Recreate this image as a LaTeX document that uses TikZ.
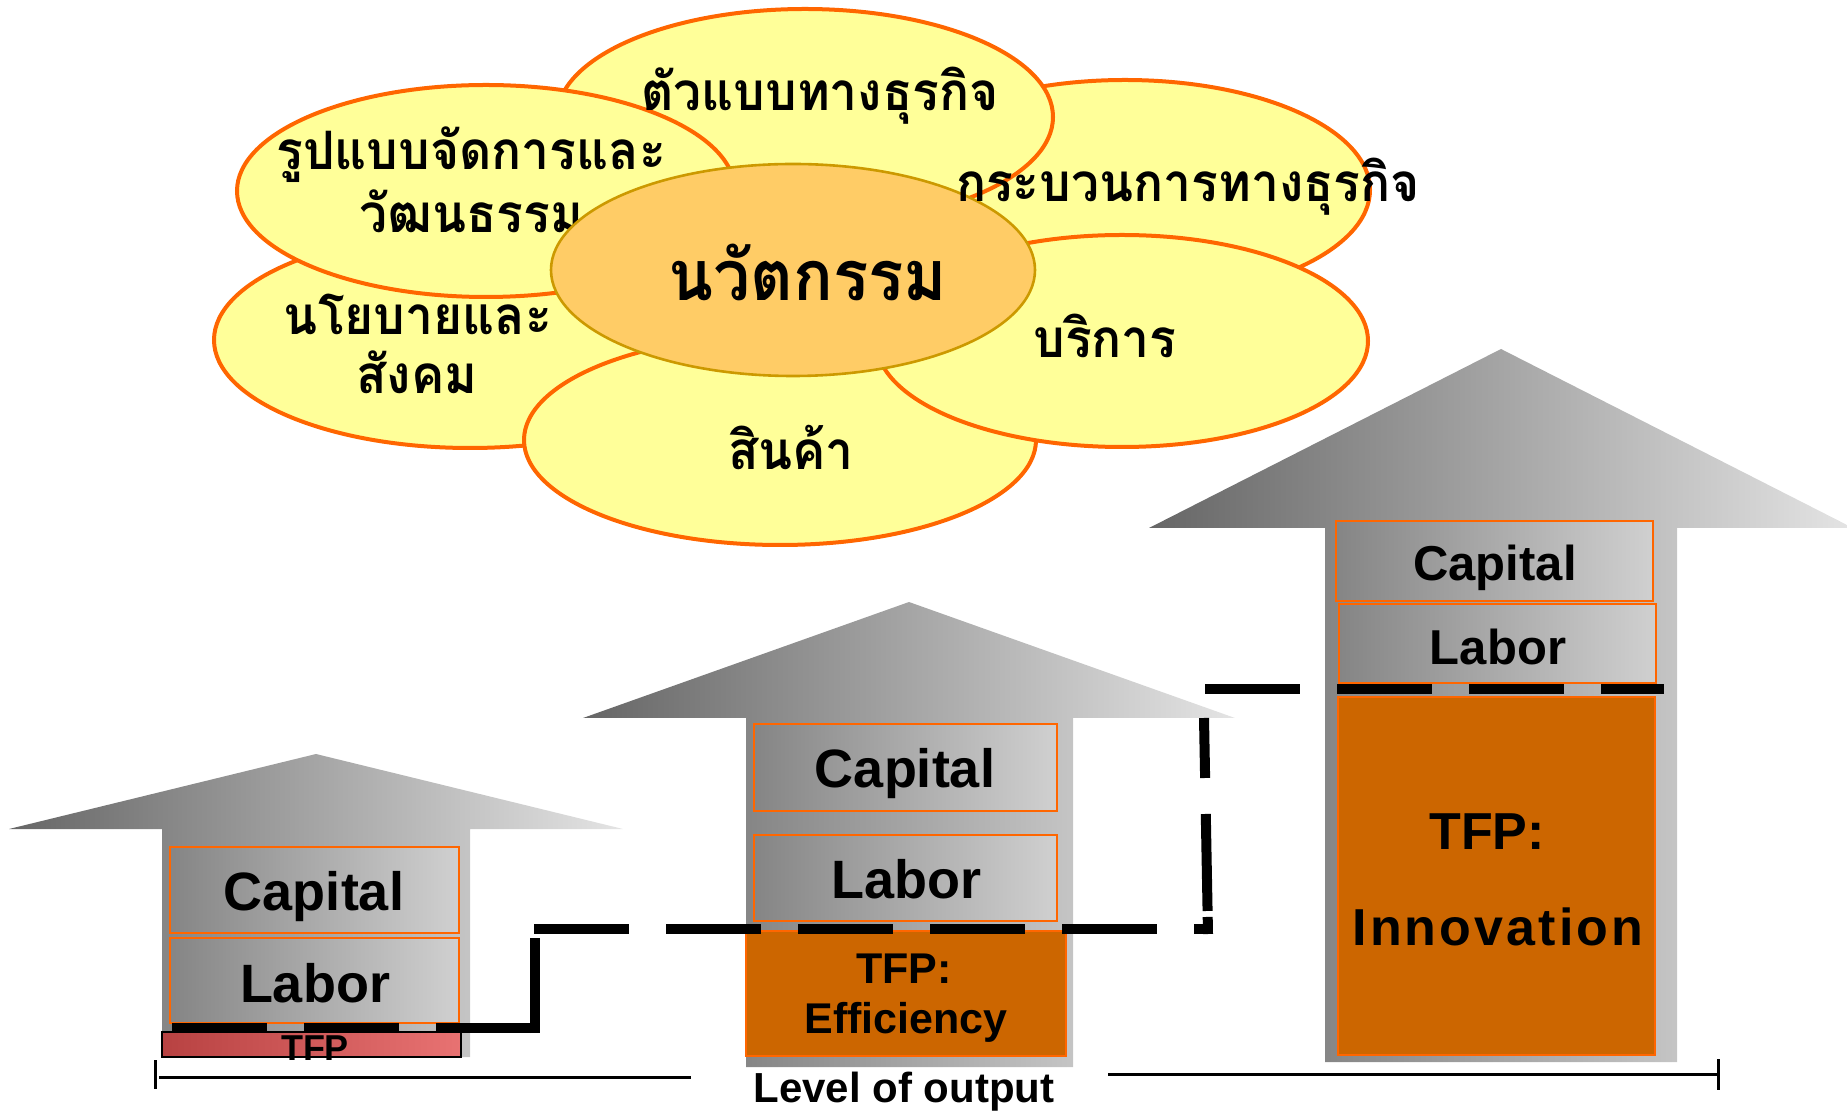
\documentclass[tikz,border=0pt]{standalone}
\usepackage{fontspec}
\setmainfont{Liberation Sans}
\newfontfamily\thaifont[Script=Thai,FakeStretch=0.94]{Loma}
\usetikzlibrary{shapes.geometric}
\definecolor{petalfill}{HTML}{FFFF99}
\definecolor{petalline}{HTML}{FF6600}
\definecolor{corefill}{HTML}{FFCC66}
\definecolor{coreline}{HTML}{CC9900}
\definecolor{tfpfill}{HTML}{CC6600}
\definecolor{arrowdark}{HTML}{666666}
\definecolor{arrowlight}{HTML}{E4E4E4}
\definecolor{boxdark}{HTML}{858585}
\definecolor{boxlight}{HTML}{D0D0D0}
\definecolor{redleft}{HTML}{B84242}
\definecolor{redright}{HTML}{E87272}
\tikzset{
  petal/.style={ellipse, draw=petalline, line width=2pt, fill=petalfill, inner sep=0pt},
  core/.style={ellipse, draw=coreline, line width=1.3pt, fill=corefill, inner sep=0pt},
  thsmall/.style={anchor=base, inner sep=0pt, font=\thaifont\bfseries\fontsize{26.5}{30}\selectfont},
  thbig/.style={anchor=base, inner sep=0pt, font=\thaifont\bfseries\fontsize{35}{40}\selectfont},
  factorbox/.style={rectangle, draw=petalline, line width=1pt, left color=boxdark, right color=boxlight, inner sep=0pt},
  tfpbox/.style={rectangle, draw=petalline, line width=1pt, fill=tfpfill, inner sep=0pt},
  redbox/.style={rectangle, draw=black, line width=1pt, left color=redleft, right color=redright, inner sep=0pt},
  word/.style={anchor=base, inner sep=0pt},
  dashline/.style={line width=5pt, dash pattern=on 47.5pt off 18.5pt},
  axisline/.style={line width=1.5pt},
  bigarrow/.style={left color=arrowdark, right color=arrowlight}
}
\begin{document}
\begin{tikzpicture}[x=0.5pt,y=-0.5pt]
\useasboundingbox (0,0) rectangle (1847,1111);
% petals
\node[petal, minimum width=245pt, minimum height=110pt] (e2) at (1125,190) {};
\node[petal, minimum width=248pt, minimum height=108pt] (e1) at (805,117) {};
\node[petal, minimum width=256pt, minimum height=108pt] (e5) at (470,340) {};
\node[petal, minimum width=249pt, minimum height=106pt] (e6) at (486,191) {};
\node[petal, minimum width=256pt, minimum height=105pt] (e4) at (780,440) {};
\node[petal, minimum width=246pt, minimum height=106pt] (e3) at (1122,341) {};
\node[thsmall] (t6a) at (471,170) {รูปแบบจัดการและ};
\node[thsmall] (t6b) at (471,233) {วัฒนธรรม};
\node[core, minimum width=242pt, minimum height=106pt] (ec) at (793,270) {};
\node[thsmall] (t1) at (820,111) {ตัวแบบทางธุรกิจ};
\node[thsmall] (t2) at (1188,202) {กระบวนการทางธุรกิจ};
\node[thsmall] (t3) at (1105,358) {บริการ};
\node[thsmall] (t4) at (791,470) {สินค้า};
\node[thsmall] (t5a) at (418,335) {นโยบายและ};
\node[thsmall] (t5b) at (417,394) {สังคม};
\node[thbig] (tc) at (808,301) {นวัตกรรม};
% arrows
\shade[bigarrow] (9,829) -- (316,754) -- (623,829) -- (470,829) -- (470,1057) -- (162,1057) -- (162,829) -- cycle;
\shade[bigarrow] (583,718) -- (909,602) -- (1235,718) -- (1073,718) -- (1073,1067) -- (746,1067) -- (746,718) -- cycle;
\shade[bigarrow] (1149,528) -- (1501,349) -- (1853,528) -- (1677,528) -- (1677,1062) -- (1325,1062) -- (1325,528) -- cycle;
% boxes small
\node[factorbox, minimum width=144.5pt, minimum height=43pt] (scap) at (314.5,890) {};
\node[factorbox, minimum width=144.5pt, minimum height=42.5pt] (slab) at (314.5,980.5) {};
\node[redbox, minimum width=149.5pt, minimum height=12.5pt] (stfp) at (311.5,1044.5) {};
% boxes middle
\node[factorbox, minimum width=151.5pt, minimum height=43.5pt] (mcap) at (905.5,767.5) {};
\node[factorbox, minimum width=151.5pt, minimum height=43pt] (mlab) at (905.5,878) {};
\node[tfpbox, minimum width=160pt, minimum height=62.5pt] (mtfp) at (906,993.5) {};
% boxes big
\node[factorbox, minimum width=158.5pt, minimum height=40pt] (bcap) at (1494.5,561) {};
\node[factorbox, minimum width=158.5pt, minimum height=39.5pt] (blab) at (1497.5,643.5) {};
\node[tfpbox, minimum width=158.5pt, minimum height=179pt] (btfp) at (1496.5,876) {};
% texts
\node[word, font=\bfseries\fontsize{27}{30}\selectfont] (sc) at (314,910) {Capital};
\node[word, font=\bfseries\fontsize{27}{30}\selectfont] (sl) at (315,1002) {Labor};
\node[word, font=\bfseries\fontsize{18}{20}\selectfont] (st) at (315,1060) {TFP};
\node[word, font=\bfseries\fontsize{27}{30}\selectfont] (mc) at (905,788) {Capital};
\node[word, font=\bfseries\fontsize{27}{30}\selectfont] (ml) at (906,898) {Labor};
\node[word, font=\bfseries\fontsize{21.5}{25}\selectfont] (mt1) at (904,983) {TFP:};
\node[word, font=\bfseries\fontsize{21.5}{25}\selectfont] (mt2) at (906,1033) {Efficiency};
\node[word, font=\bfseries\fontsize{24.5}{28}\selectfont] (bc) at (1495,581) {Capital};
\node[word, font=\bfseries\fontsize{24.5}{28}\selectfont] (bl) at (1498,665) {Labor};
\node[word, font=\bfseries\fontsize{26}{30}\selectfont] (bt1) at (1487,849) {TFP:};
\node[word, font=\bfseries\fontsize{26}{30}\selectfont\addfontfeature{LetterSpace=6}] (bt2) at (1498,945) {Innovation};
\node[word, font=\bfseries\fontsize{21}{24}\selectfont] (lvl) at (904,1102) {Level of output};
% axis
\coordinate (axL) at (155,1077);
\coordinate (axR) at (1718,1074);
\draw[axisline] (155,1060) -- (155,1089);
\draw[axisline] (159,1077) -- (691,1077);
\draw[axisline] (1108,1074) -- (1717,1074);
\draw[axisline] (1718,1059) -- (1718,1090);
% dashed step line
\draw[dashline] (172,1028) -- (535,1028);
\draw[dashline] (535,1033) -- (535,929);
\draw[dashline] (534,929) -- (1213,929);
\draw[line width=5pt, dash pattern=on 30pt off 18pt on 48.5pt off 3pt on 10pt off 100pt] (1204,718) -- (1208,934);
\draw[dashline] (1205,689) -- (1664,689);
\end{tikzpicture}
\end{document}
